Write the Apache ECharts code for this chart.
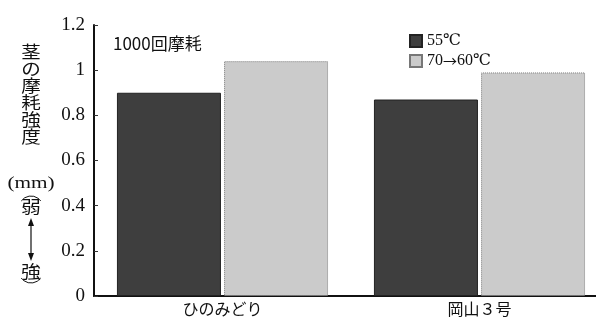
<!DOCTYPE html>
<html><head><meta charset="utf-8">
<script src="https://cdn.jsdelivr.net/npm/echarts@6/dist/echarts.min.js"></script>
<style>html,body{margin:0;padding:0;background:#fff}#c{width:596px;height:320px}</style>
</head><body><div id="c"></div>
<script>
const categories = ['ひのみどり', '岡山３号'];
const series55 = [0.90, 0.87];
const series7060 = [1.04, 0.99];
const seriesNames = ['55℃', '70→60℃'];
const yTitleChars = ['茎','の','摩','耗','強','度','(mm)','弱','強'];
const yTitleYs = [52, 69, 86, 103, 120, 137, 184, 207, 272];

const serif = '"Liberation Serif", "DejaVu Serif", serif';
const jp = '"Noto Sans CJK JP", sans-serif';
const chart = echarts.init(document.getElementById('c'));
chart.setOption({
  animation: false,
  grid: { left: 94, width: 514, top: 25, bottom: 24, outerBoundsMode: 'none', containLabel: false },
  legend: {
    orient: 'vertical', left: 404, top: 28, itemWidth: 12, itemHeight: 12, itemGap: 4,
    icon: 'rect',
    formatter: function (n) {
      return n.indexOf('→') >= 0 ? n.split('→').join('{arr|→}') : n;
    },
    textStyle: {
      fontFamily: serif, fontSize: 16, color: '#111',
      rich: { arr: { fontFamily: jp, fontSize: 14, color: '#111' } }
    },
    data: seriesNames
  },
  xAxis: {
    type: 'category', data: categories,
    axisLine: { lineStyle: { color: '#111', width: 2 } },
    axisTick: { show: false },
    axisLabel: { fontFamily: jp, fontSize: 16, color: '#111', margin: 5 }
  },
  yAxis: {
    type: 'value', min: 0, max: 1.2, interval: 0.2,
    axisLine: { show: true, lineStyle: { color: '#111', width: 2 } },
    axisTick: { show: true, inside: true, length: 4, lineStyle: { color: '#333' } },
    splitLine: { show: false },
    axisLabel: { fontFamily: serif, fontSize: 19, color: '#111', margin: 9 }
  },
  series: [
    { name: seriesNames[0], type: 'bar', data: series55, barWidth: 104, barGap: '3%',
      itemStyle: { color: '#3e3e3e', borderColor: '#222', borderWidth: 1 } },
    { name: seriesNames[1], type: 'bar', data: series7060, barWidth: 104,
      itemStyle: { color: '#cbcbcb', borderColor: '#777', borderWidth: 1, borderType: 'dotted' } }
  ],
  graphic: [
    { type: 'text', left: 113, top: 35, style: { text: '1000回摩耗', font: '17px ' + jp, fill: '#111' } },
    { type: 'arc', shape: { cx: 31, cy: 208, r: 12, startAngle: Math.PI * 1.2, endAngle: Math.PI * 1.8 },
      style: { stroke: '#111', lineWidth: 1, fill: null } },
    { type: 'arc', shape: { cx: 31, cy: 271, r: 12, startAngle: Math.PI * 0.2, endAngle: Math.PI * 0.8 },
      style: { stroke: '#111', lineWidth: 1, fill: null } },
    { type: 'line', shape: { x1: 31, y1: 222, x2: 31, y2: 257 }, style: { stroke: '#111', lineWidth: 1.2 } },
    { type: 'polygon', shape: { points: [[31, 218], [28, 226], [34, 226]] }, style: { fill: '#111' } },
    { type: 'polygon', shape: { points: [[31, 261], [28, 253], [34, 253]] }, style: { fill: '#111' } }
  ].concat(yTitleChars.map((ch, i) => ({
    type: 'text', x: 31, y: yTitleYs[i],
    scaleX: ch === '(mm)' ? 1.25 : 1.15, originX: 0, originY: 0,
    style: {
      text: ch,
      font: (ch === '(mm)' ? '17px ' + serif : '17px ' + jp),
      fill: '#111', align: 'center', verticalAlign: 'middle'
    }
  })))
});
</script></body></html>
